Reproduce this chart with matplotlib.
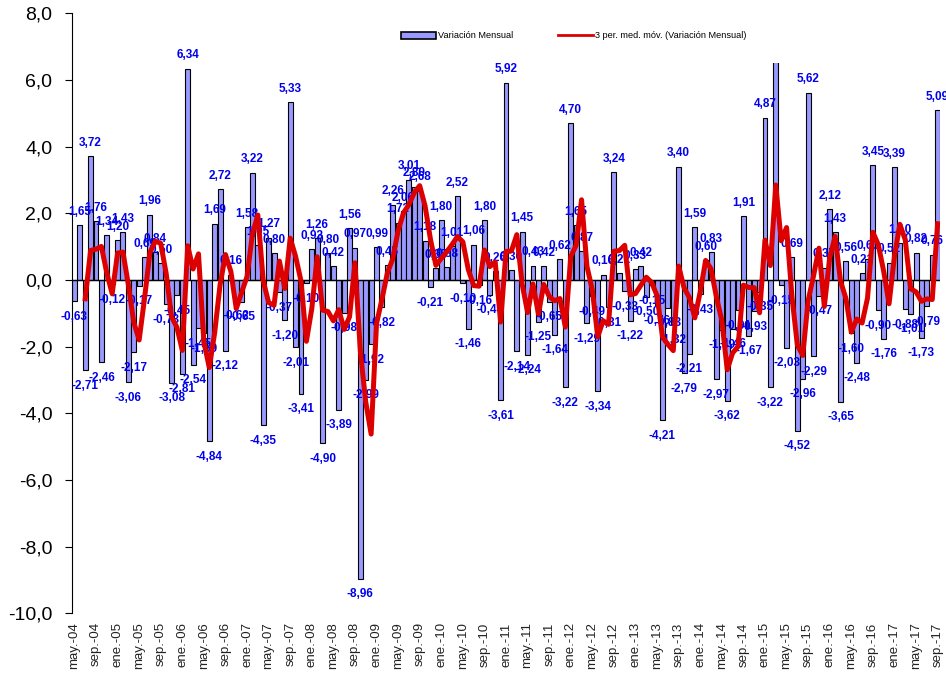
import matplotlib

matplotlib.use("Agg")
import matplotlib.pyplot as plt
import numpy as np
from matplotlib.lines import Line2D
from matplotlib.patches import Patch, Rectangle

# Variación mensual, may-04 .. sep-17
monthly_change = [
    -0.63, 1.65, -2.71, 3.72, 1.76, -2.46, 1.34, -0.12,                 # 2004
    1.20, 1.43, -3.06, -2.17, -0.17, 0.69, 1.96, 0.84, 0.50, -0.73, -3.08, -0.45,  # 2005
    -2.81, 6.34, -2.54, -1.45, -1.59, -4.84, 1.69, 2.72, -2.12, 0.16, -0.62, -0.65,  # 2006
    1.58, 3.22, 1.05, -4.35, 1.27, 0.80, -0.37, -1.20, 5.33, -2.01, -3.41, -0.10,  # 2007
    0.93, 1.26, -4.90, 0.80, 0.42, -3.89, -0.98, 1.56, 0.97, -8.96, -2.99, -1.92,  # 2008
    0.99, -0.82, 0.45, 2.26, 1.72, 2.06, 3.01, 2.80, 2.68, 1.18, -0.21, 0.35,  # 2009
    1.80, 0.38, 1.01, 2.52, -0.10, -1.46, 1.06, -0.16, 1.80, -0.44, 0.26, -3.61,  # 2010
    5.92, 0.30, -2.14, 1.45, -2.24, 0.43, -1.25, 0.42, -0.65, -1.64, 0.62, -3.22,  # 2011
    4.70, 1.65, 0.87, -1.29, -0.49, -3.34, 0.16, -0.81, 3.24, 0.21, -0.33, -1.22,  # 2012
    0.33, 0.42, -0.50, -0.15, -0.76, -4.21, -0.83, -1.32, 3.40, -2.79, -2.21, 1.59,  # 2013
    -0.43, 0.60, 0.83, -2.97, -1.49, -3.62, -1.46, -0.91, 1.91, -1.67, -0.93, -0.35,  # 2014
    4.87, -3.22, 6.90, -0.15, -2.03, 0.69, -4.52, -2.96, 5.62, -2.29, -0.47, 0.37,  # 2015
    2.12, 1.43, -3.65, 0.56, -1.60, -2.48, 0.21, 0.63, 3.45, -0.90, -1.76, 0.52,  # 2016
    3.39, 1.10, -0.88, -1.01, 0.82, -1.73, -0.79, 0.76, 5.09,  # 2017
]

# one label every four months
tick_labels = [
    "may.-04", "sep.-04", "ene.-05", "may.-05", "sep.-05", "ene.-06", "may.-06",
    "sep.-06", "ene.-07", "may.-07", "sep.-07", "ene.-08", "may.-08", "sep.-08",
    "ene.-09", "may.-09", "sep.-09", "ene.-10", "may.-10", "sep.-10", "ene.-11",
    "may.-11", "sep.-11", "ene.-12", "may.-12", "sep.-12", "ene.-13", "may.-13",
    "sep.-13", "ene.-14", "may.-14", "sep.-14", "ene.-15", "may.-15", "sep.-15",
    "ene.-16", "may.-16", "sep.-16", "ene.-17", "may.-17", "sep.-17",
]

y_ticks = [8, 6, 4, 2, 0, -2, -4, -6, -8, -10]

BAR_COLOR = "#9999FF"
LINE_COLOR = "#DD0000"
LABEL_COLOR = "#0000EE"


def comma(v, decimals):
    return f"{v:.{decimals}f}".replace(".", ",")


def main():
    plt.rcParams["font.family"] = ["Liberation Sans", "DejaVu Sans"]

    values = np.array(monthly_change)
    x = np.arange(len(values))

    fig = plt.figure(figsize=(9.46, 6.73), dpi=100)
    ax = fig.add_axes([0.0758, 0.0887, 0.9182, 0.8915])

    ax.bar(x, values, width=0.92, color=BAR_COLOR, edgecolor="black",
           linewidth=0.8, zorder=2)
    ax.axhline(0, color="black", linewidth=1.0, zorder=2.5)

    # 3 period trailing moving average
    ma = np.convolve(values, np.ones(3) / 3, mode="valid")
    ax.plot(x[2:], ma, color=LINE_COLOR, linewidth=3.6, zorder=4,
            solid_joinstyle="round")

    for xi, v in zip(x, values):
        if v >= 0:
            ax.annotate(comma(v, 2), (xi, v), xytext=(0, 7.5),
                        textcoords="offset points", ha="center", va="baseline",
                        fontsize=8.5, fontweight="bold", color=LABEL_COLOR,
                        zorder=3)
        else:
            ax.annotate(comma(v, 2), (xi, v), xytext=(0, -7),
                        textcoords="offset points", ha="center", va="top",
                        fontsize=8.5, fontweight="bold", color=LABEL_COLOR,
                        zorder=3)

    ax.set_xlim(-0.5, len(values) - 0.5)
    ax.set_ylim(-10, 8)
    ax.set_yticks(y_ticks)
    ax.set_yticklabels([comma(t, 1) for t in y_ticks])
    ax.tick_params(axis="y", direction="out", length=5, width=0.8,
                   labelsize=14, pad=9)

    ax.set_xticks(x[::4])
    ax.set_xticklabels(tick_labels, rotation=90, fontsize=9.5, color="#222222")
    ax.tick_params(axis="x", length=0, pad=6.5)

    for side in ("top", "right", "bottom"):
        ax.spines[side].set_visible(False)
    ax.spines["left"].set_linewidth(0.8)

    # white legend area hides whatever reaches into it
    fig.add_artist(Rectangle((0.412, 0.9071), 0.43, 0.081,
                             transform=fig.transFigure, facecolor="white",
                             edgecolor="none", zorder=5))

    handles = [
        Patch(facecolor=BAR_COLOR, edgecolor="black", linewidth=1.2),
        Line2D([], [], color=LINE_COLOR, linewidth=2.0),
    ]
    fig.legend(handles, ["Variación Mensual",
                         "3 per. med. móv. (Variación Mensual)"],
               loc="center left", bbox_to_anchor=(0.424, 1 - 36 / 673),
               ncol=2, frameon=False, fontsize=6.6, handlelength=3.8,
               handletextpad=0.2, columnspacing=4.9, borderaxespad=0,
               borderpad=0)

    fig.savefig("out.png", dpi=100, facecolor="white")


if __name__ == "__main__":
    main()
